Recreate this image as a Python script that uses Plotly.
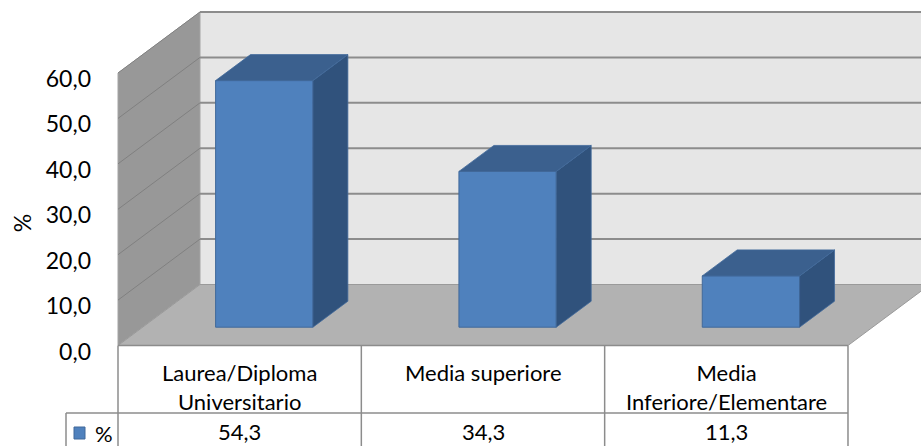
import plotly.graph_objects as go

# ---------------- data ----------------
categories = ["Laurea/Diploma Universitario", "Media superiore", "Media Inferiore/Elementare"]
category_labels = ["Laurea/Diploma<br>Universitario", "Media superiore", "Media<br>Inferiore/Elementare"]
values = [54.3, 34.3, 11.3]
series_name = "%"
axis_title = "%"
tick_values = [0, 10, 20, 30, 40, 50, 60]


def fmt(v):
    return f"{v:.1f}".replace(".", ",")


# ---------------- geometry / styles ----------------
W, H = 921, 446
PX_X0 = 118.0            # front plane, left edge (px)
PX_CAT = 243.33          # width of one category on the front plane (px)
PX_Y0 = 345.5            # value 0 on the front plane (px)
PX_UNIT = 272.5 / 60.0   # px per value unit
DEPTH_PX = (82.0, 61.0)  # projection of full depth (px right, px up)
Z0, Z1 = 0.30, 0.726     # bar depth (fraction of full depth)
BAR_W = 0.40             # bar width in category units
YMAX = tick_values[-1]
NCAT = len(categories)

FONT = "Lato"
FS = 22
FS_TICK = 23

C_FRONT = "#4F81BD"
C_TOP = "#3B608E"
C_SIDE = "#30527C"
C_EDGE = "#41699A"
C_BACK = "#E6E6E6"
C_LEFT = "#989898"
C_FLOOR = "#B2B2B2"
C_GRID = "#8C8C8C"
C_TABLE = "#8C8C8C"

ux, uy = PX_CAT, PX_UNIT
DX, DY = DEPTH_PX[0] / ux, DEPTH_PX[1] / uy
x_range = [-PX_X0 / ux, (W - PX_X0) / ux]
y_range = [(PX_Y0 - H) / uy, PX_Y0 / uy]


def xpx(px):
    return (px - PX_X0) / ux


def ypx(py):
    return (PX_Y0 - py) / uy


def P(x, v, z):
    return x + DX * z, v + DY * z


def path(points):
    s = "M " + " L ".join(f"{x:.5f},{y:.5f}" for x, y in points) + " Z"
    return s


shapes = []
# back wall
shapes.append(dict(type="path", xref="x", yref="y", layer="below",
                   path=path([P(0, 0, 1), P(NCAT, 0, 1), P(NCAT, YMAX, 1), P(0, YMAX, 1)]),
                   fillcolor=C_BACK, line=dict(width=0)))
# left wall
shapes.append(dict(type="path", xref="x", yref="y", layer="below",
                   path=path([P(0, 0, 0), P(0, YMAX, 0), P(0, YMAX, 1), P(0, 0, 1)]),
                   fillcolor=C_LEFT, line=dict(color="#A4A4A4", width=1)))
# floor
shapes.append(dict(type="path", xref="x", yref="y", layer="below",
                   path=path([P(0, 0, 0), P(NCAT, 0, 0), P(NCAT, 0, 1), P(0, 0, 1)]),
                   fillcolor=C_FLOOR, line=dict(color="#9A9A9A", width=1)))
# gridlines on back wall and left wall
for v in tick_values[1:]:
    (x0, y0), (x1, y1) = P(0, v, 1), P(NCAT, v, 1)
    shapes.append(dict(type="line", xref="x", yref="y", layer="below",
                       x0=x0, y0=y0, x1=x1, y1=y1, line=dict(color=C_GRID, width=2)))
    (x0, y0), (x1, y1) = P(0, v, 0), P(0, v, 1)
    shapes.append(dict(type="line", xref="x", yref="y", layer="below",
                       x0=x0, y0=y0, x1=x1, y1=y1, line=dict(color="#808080", width=1)))

# ---------------- data table ----------------
row_y = ypx(413)
bottom = y_range[0]
shapes.append(dict(type="line", xref="x", yref="y", x0=0, x1=NCAT, y0=0, y1=0,
                   line=dict(color=C_TABLE, width=1.5)))
shapes.append(dict(type="line", xref="x", yref="y", x0=xpx(66), x1=NCAT, y0=row_y, y1=row_y,
                   line=dict(color=C_TABLE, width=1.5)))
for i in range(NCAT + 1):
    shapes.append(dict(type="line", xref="x", yref="y", x0=i, x1=i, y0=0, y1=bottom,
                       line=dict(color=C_TABLE, width=1.5)))
shapes.append(dict(type="line", xref="x", yref="y", x0=xpx(66), x1=xpx(66), y0=row_y, y1=bottom,
                   line=dict(color=C_TABLE, width=1.5)))
# legend key
shapes.append(dict(type="rect", xref="x", yref="y", x0=xpx(74), x1=xpx(85), y0=ypx(427), y1=ypx(439),
                   fillcolor=C_FRONT, line=dict(color=C_EDGE, width=1)))

annotations = []
for i, lab in enumerate(category_labels):
    annotations.append(dict(x=i + 0.5, y=ypx(357), xref="x", yref="y", text=lab,
                            showarrow=False, xanchor="center", yanchor="top",
                            font=dict(family=FONT, size=FS, color="#000000")))
for i, v in enumerate(values):
    annotations.append(dict(x=i + 0.5, y=ypx(445.5), xref="x", yref="y", text=fmt(v),
                            showarrow=False, xanchor="center", yanchor="bottom", borderpad=0,
                            font=dict(family=FONT, size=FS, color="#000000")))
annotations.append(dict(x=xpx(93), y=ypx(433), xref="x", yref="y", text=series_name,
                        showarrow=False, xanchor="left", yanchor="middle",
                        font=dict(family=FONT, size=FS, color="#000000")))

# ---------------- bars ----------------
fig = go.Figure()
for i, v in enumerate(values):
    xl, xr = i + 0.5 - BAR_W / 2, i + 0.5 + BAR_W / 2
    side = [P(xr, 0, Z0), P(xr, v, Z0), P(xr, v, Z1), P(xr, 0, Z1), P(xr, 0, Z0)]
    top = [P(xl, v, Z0), P(xr, v, Z0), P(xr, v, Z1), P(xl, v, Z1), P(xl, v, Z0)]
    for poly, col in ((side, C_SIDE), (top, C_TOP)):
        fig.add_trace(go.Scatter(x=[p[0] for p in poly], y=[p[1] for p in poly],
                                 fill="toself", fillcolor=col, mode="lines",
                                 line=dict(color=C_EDGE, width=0.8),
                                 hoverinfo="skip", showlegend=False))

fig.add_trace(go.Bar(
    x=[i + 0.5 + DX * Z0 for i in range(NCAT)],
    y=values,
    base=[DY * Z0] * NCAT,
    width=[BAR_W] * NCAT,
    name=series_name,
    marker=dict(color=C_FRONT, line=dict(color=C_EDGE, width=1)),
    showlegend=False,
    customdata=categories,
    hovertemplate="%{customdata}: %{y}<extra></extra>",
))

fig.update_layout(
    width=W, height=H,
    margin=dict(l=0, r=0, t=0, b=0),
    paper_bgcolor="white", plot_bgcolor="white",
    showlegend=False,
    shapes=shapes,
    annotations=annotations,
    font=dict(family=FONT, size=FS, color="#000000"),
    xaxis=dict(range=x_range, visible=False, domain=[0, 1], fixedrange=True),
    yaxis=dict(range=y_range, anchor="free", position=91 / W,
               tickvals=tick_values, ticktext=[fmt(t) for t in tick_values],
               showgrid=False, zeroline=False, showline=False, ticks="",
               ticklabelshift=6,
               tickfont=dict(family=FONT, size=FS_TICK, color="#000000"),
               title=dict(text=axis_title, standoff=6,
                          font=dict(family=FONT, size=FS_TICK, color="#000000")),
               fixedrange=True),
)

fig.write_html("out.html")
